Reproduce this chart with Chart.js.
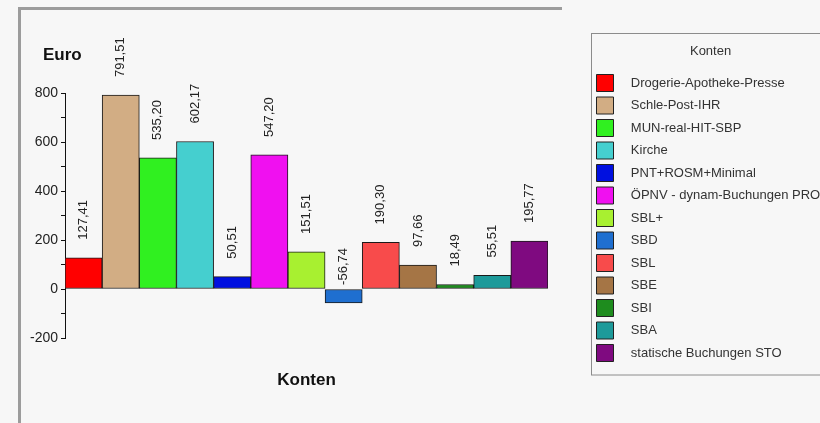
<!DOCTYPE html>
<html>
<head>
<meta charset="utf-8">
<script src="https://cdn.jsdelivr.net/npm/chart.js@4/dist/chart.umd.min.js"></script>
<style>
  html, body { margin: 0; padding: 0; background: #f7f7f7; }
</style>
</head>
<body>
<canvas id="chart" width="820" height="423"></canvas>
<script>
const categories = ['Drogerie-Apotheke-Presse', 'Schle-Post-IHR', 'MUN-real-HIT-SBP', 'Kirche', 'PNT+ROSM+Minimal',
  'ÖPNV - dynam-Buchungen PRO', 'SBL+', 'SBD', 'SBL', 'SBE', 'SBI', 'SBA', 'statische Buchungen STO'];
const amounts = [127.41, 791.51, 535.20, 602.17, 50.51, 547.20, 151.51, -56.74, 190.30, 97.66, 18.49, 55.51, 195.77];
const barColors = ['#ff0000', '#d2ad84', '#30f020', '#45cfcf', '#0010e0', '#f010f0', '#a8f030',
  '#1f6fd0', '#f84b4b', '#a57545', '#1e8c1e', '#1d9a9a', '#7f0a80'];
const yTicks = [-200, 0, 200, 400, 600, 800];

const FONT = '"Liberation Sans", Arial, sans-serif';
Chart.defaults.font.family = FONT;
Chart.defaults.color = '#222';

// legend width, so the box starts where the original one does
const mctx = document.createElement('canvas').getContext('2d');
mctx.font = '13px ' + FONT;
const maxText = Math.max(...categories.map(c => mctx.measureText('   ' + c).width));
const legendW = 5.5 + 17 + 6.5 + maxText + 10;

const framePlugin = {
  id: 'frame',
  beforeDraw(chart) {
    const ctx = chart.ctx;
    ctx.save();
    ctx.fillStyle = '#f7f7f7';
    ctx.fillRect(0, 0, chart.width, chart.height);
    ctx.strokeStyle = '#9c9c9c';
    ctx.lineWidth = 3;
    ctx.beginPath();
    ctx.moveTo(19.5, chart.height);
    ctx.lineTo(19.5, 8.5);
    ctx.lineTo(562, 8.5);
    ctx.stroke();
    const lg = chart.legend;
    const last = lg.legendHitBoxes[lg.legendHitBoxes.length - 1];
    ctx.lineWidth = 1;
    ctx.strokeStyle = '#8c8c8c';
    ctx.strokeRect(Math.round(lg.left) + 0.5, Math.round(lg.top) + 0.5, lg.width + 30, last.top + last.height + 13 - lg.top);
    ctx.restore();
  },
  afterDraw(chart) {
    const ctx = chart.ctx;
    ctx.save();
    ctx.font = 'bold 17px ' + FONT;
    ctx.fillStyle = '#111';
    ctx.textBaseline = 'middle';
    ctx.fillText('Euro', 43, 55);
    ctx.restore();
  }
};

const valueLabels = {
  id: 'valueLabels',
  afterDatasetsDraw(chart) {
    const ctx = chart.ctx;
    const meta = chart.getDatasetMeta(0);
    ctx.save();
    ctx.font = '13px ' + FONT;
    ctx.fillStyle = '#222';
    ctx.textAlign = 'left';
    ctx.textBaseline = 'middle';
    meta.data.forEach((bar, i) => {
      ctx.save();
      ctx.translate(bar.x, bar.y - 18);
      ctx.rotate(-Math.PI / 2);
      ctx.fillText(amounts[i].toFixed(2).replace('.', ','), 0, 0);
      ctx.restore();
    });
    ctx.restore();
  }
};

new Chart(document.getElementById('chart'), {
  type: 'bar',
  data: {
    labels: categories,
    datasets: [{
      data: amounts,
      backgroundColor: barColors,
      borderColor: '#1a1a1a',
      borderWidth: 1,
      borderSkipped: false,
      barPercentage: 1,
      categoryPercentage: 1
    }]
  },
  options: {
    responsive: false,
    animation: false,
    layout: { padding: { top: 33, left: 0, right: 229 - legendW, bottom: 10 } },
    scales: {
      x: {
        ticks: { display: false },
        grid: { display: false, drawTicks: false },
        border: { display: false },
        title: { display: true, text: 'Konten', font: { size: 17, weight: 'bold' }, color: '#111', padding: { top: 31.8, bottom: 22.8 } }
      },
      y: {
        min: -200,
        max: 800,
        ticks: {
          stepSize: 100,
          padding: 3,
          font: { size: 14 },
          color: '#222',
          callback: v => yTicks.includes(v) ? v : ''
        },
        grid: { drawOnChartArea: false, tickLength: 4, color: '#111' },
        border: { color: '#111', width: 1 },
        afterFit: scale => { scale.width = 65; }
      }
    },
    plugins: {
      title: { display: true, text: '', fullSize: false, font: { size: 10 }, padding: { top: 0, bottom: 48 } },
      subtitle: { display: true, text: '', position: 'right', weight: 500, fullSize: false, font: { size: 10 }, padding: { top: 0, bottom: 31 } },
      legend: {
        position: 'right',
        align: 'start',
        maxWidth: 400,
        title: { display: true, text: 'Konten', color: '#333', font: { size: 13 }, padding: { top: 12, bottom: 8.4 } },
        labels: {
          boxWidth: 17,
          boxHeight: 17,
          padding: 5.5,
          color: '#222',
          font: { size: 13 },
          generateLabels: () => categories.map((c, i) => ({
            text: '   ' + c,
            fillStyle: barColors[i],
            strokeStyle: '#222',
            lineWidth: 1,
            hidden: false,
            index: i
          }))
        }
      },
      tooltip: { enabled: false }
    }
  },
  plugins: [framePlugin, valueLabels]
});
</script>
</body>
</html>
